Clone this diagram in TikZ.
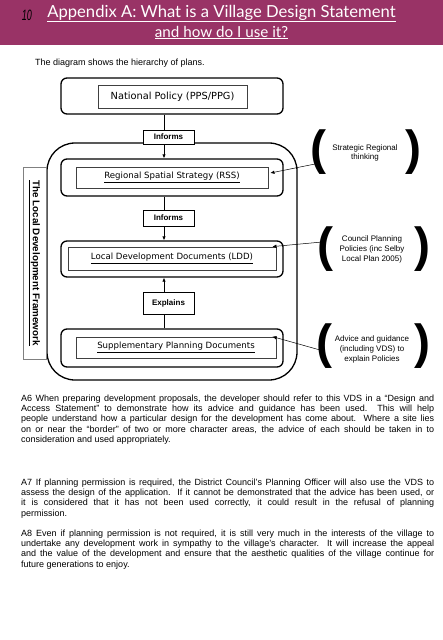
\documentclass[tikz,border=0pt]{standalone}
\usepackage{fontspec}
\setmainfont{Liberation Sans}
\newfontfamily\boxfont{DejaVu Sans}
\newfontfamily\headfont{Lato}
\usetikzlibrary{arrows.meta}
\definecolor{plum}{RGB}{153,51,102}
\hyphenpenalty=10000
\exhyphenpenalty=10000
\tikzset{
  outerbox/.style={draw, line width=1.3pt, rounded corners=6pt, minimum width=222pt, minimum height=37pt},
  innerbox/.style={draw=black!75, line width=0.8pt, inner sep=0pt, font=\boxfont\fontsize{8.6}{10}\selectfont},
  linkbox/.style={draw, fill=white, line width=0.7pt, minimum width=51pt, inner sep=0pt, font=\fontsize{8}{9}\selectfont\bfseries},
  notetext/.style={align=center, inner sep=0pt, font=\fontsize{8}{9.6}\selectfont},
  bracket/.style={inner sep=0pt, font=\fontsize{48}{48}\selectfont\bfseries},
  linkline/.style={line width=0.8pt},
  linkarrow/.style={-{Latex[length=4pt,width=3.5pt]}, line width=0.8pt},
  notearrow/.style={-{Latex[length=4pt,width=3.5pt]}, line width=0.5pt},
  headtext/.style={text=white, inner sep=0pt, anchor=base},
  bodytext/.style={anchor=north west, inner sep=0pt, text width=413pt, align=justify, font=\fontsize{9}{10.3}\selectfont}
}

\begin{document}
\begin{tikzpicture}[x=1pt, y=-1pt]
  % page and banner
  \fill[white] (0,0) rectangle (443,640);
  \fill[plum] (0,0) rectangle (443,45);
  \node[inner sep=0pt, font=\itshape\fontsize{15}{15}\selectfont] (pagenum) at (27,15) {\scalebox{0.6}[1]{10}};
  \node[headtext, font=\headfont\fontsize{16.6}{20}\selectfont] (headone) at (221.5,17) {\underline{Appendix A: What is a Village Design Statement}};
  \node[headtext, font=\headfont\fontsize{15.2}{18}\selectfont] (headtwo) at (221.5,37) {\underline{and how do I use it?}};
  \node[inner sep=0pt, anchor=base west, font=\fontsize{9}{10.3}\selectfont] (intro) at (35,65) {The diagram shows the hierarchy of plans.};

  % the local development framework
  \node[draw, line width=1.3pt, rounded corners=28pt, minimum width=250pt, minimum height=237pt] (ldf) at (172,261.5) {};
  \node[draw=gray, line width=1pt, minimum width=192pt, minimum height=23pt, rotate=-90, font=\fontsize{9.8}{11}\selectfont\bfseries] (ldflabel) at (34.5,263) {\underline{The Local Development Framework}};

  % levels
  \node[outerbox, minimum height=36pt] (natout) at (172,96) {};
  \node[innerbox, minimum width=149pt, minimum height=23pt, font=\boxfont\fontsize{9.8}{11}\selectfont] (natin) at (172.5,96.5) {National Policy (PPS/PPG)};
  \node[outerbox] (rssout) at (172,177.5) {};
  \node[innerbox, minimum width=192pt, minimum height=21pt] (rssin) at (172,177.5) {\underline{Regional Spatial Strategy (RSS)}};
  \node[outerbox, minimum height=36pt] (lddout) at (172,259) {};
  \node[innerbox, minimum width=208pt, minimum height=23pt] (lddin) at (172,258.5) {\underline{Local Development Documents (LDD)}};
  \node[outerbox, minimum height=38pt] (spdout) at (172,348) {};
  \node[innerbox, minimum width=200pt, minimum height=21pt] (spdin) at (176,347.5) {\underline{Supplementary Planning Documents}};

  \node[linkbox, minimum height=14pt] (infone) at (168.5,137) {Informs};
  \node[linkbox, minimum height=16pt] (inftwo) at (168.5,218) {Informs};
  \node[linkbox, minimum height=22pt] (expl) at (168.5,303) {Explains};

  \coordinate (axis) at (164,0);
  \draw[linkline] (natout.south -| axis) -- (infone.north -| axis);
  \draw[linkarrow] (infone.south -| axis) -- (rssout.north -| axis);
  \draw[linkline] (rssout.south -| axis) -- (inftwo.north -| axis);
  \draw[linkarrow] (inftwo.south -| axis) -- (lddout.north -| axis);
  \draw[linkline] (spdout.north -| axis) -- (expl.south -| axis);
  \draw[linkarrow] (expl.north -| axis) -- (lddout.south -| axis);

  % notes on the right
  \node[notetext] (noteone) at (365,153) {Strategic Regional\\thinking};
  \node[bracket] (openone) at (318,152.5) {(};
  \node[bracket] (closeone) at (413.5,152.5) {)};
  \coordinate (tailone) at (320,163);
  \draw[notearrow] (tailone) -- ([shift={(2,-4.5)}]rssin.east);

  \node[notetext] (notetwo) at (372,249.5) {Council Planning\\Policies (inc Selby\\Local Plan 2005)};
  \node[bracket] (opentwo) at (325.5,249.5) {(};
  \node[bracket] (closetwo) at (422.5,249.5) {)};
  \coordinate (tailtwo) at (322,242);
  \draw[notearrow] (tailtwo) -- ([xshift=-4pt]lddin.north east);

  \node[notetext] (notethree) at (372,349.5) {Advice and guidance\\(including VDS) to\\explain Policies};
  \node[bracket] (openthree) at (324.5,346.5) {(};
  \node[bracket] (closethree) at (422,346.5) {)};
  \coordinate (tailthree) at (320,350);
  \draw[notearrow] (tailthree) -- ([xshift=-4pt]spdin.north east);

  % body text
  \node[bodytext] (parasix) at (21,394.5) {A6 When preparing development proposals, the developer should refer to this VDS in a “Design and\linebreak Access Statement” to demonstrate how its advice and guidance has been used.\ \ This will help\linebreak people understand how a particular design for the development has come about.\ \ Where a site lies\linebreak on or near the “border” of two or more character areas, the advice of each should be taken in to\linebreak consideration and used appropriately.};
  \node[bodytext] (paraseven) at (21,478.5) {A7 If planning permission is required, the District Council’s Planning Officer will also use the VDS to\linebreak assess the design of the application.\ \ If it cannot be demonstrated that the advice has been used, or\linebreak it is considered that it has not been used correctly, it could result in the refusal of planning\linebreak permission.};
  \node[bodytext] (paraeight) at (21,529.5) {A8 Even if planning permission is not required, it is still very much in the interests of the village to\linebreak undertake any development work in sympathy to the village’s character.\ \ It will increase the appeal\linebreak and the value of the development and ensure that the aesthetic qualities of the village continue for\linebreak future generations to enjoy.};
\end{tikzpicture}
\end{document}
